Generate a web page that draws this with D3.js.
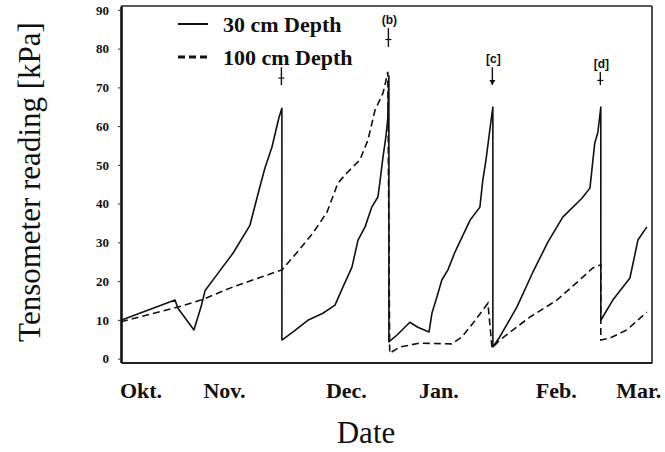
<!DOCTYPE html>
<html>
<head>
<meta charset="utf-8">
<script src="https://cdn.jsdelivr.net/npm/d3@7"></script>
<style>
  body { margin: 0; background: #fff; }
  svg { display: block; }
</style>
</head>
<body>
<svg id="chart"></svg>
<script>
// days counted from the start of October
const days30 = [0, 16.9, 17.8, 22.8, 25, 26.3, 30.3, 35, 40.3, 43.4, 45, 47.2, 49.4, 50.3,
  50.3, 53.8, 58.4, 63.1, 66.9, 69.4, 72.2, 74.1, 76.3, 78.4, 80.3, 80.9, 81.9, 82.8, 83.4, 83.75,
  83.75, 86.3, 90.3, 92.8, 96.3, 97.2, 98.75, 100.3, 102.2, 104.4, 109.1, 112.2, 113.1, 114.1, 115.3, 116.25,
  116.25, 118.4, 123.75, 128.75, 133.4, 138.1, 144.1, 146.6, 148.1, 149.1, 150,
  150, 153.75, 159.1, 161.6, 164.4];
const kpa30 = [9.9, 15.1, 13, 7.4, 13.3, 17.6, 22, 27.2, 34.4, 44.3, 49.2, 54.6, 62.3, 64.6,
  4.8, 6.9, 9.9, 11.7, 13.8, 18.5, 23.6, 30.6, 34, 39.1, 41.7, 45.3, 52, 57.2, 62, 73,
  4.3, 6.1, 9.4, 8.1, 6.9, 11.7, 15.9, 20.3, 22.9, 27.5, 35.7, 39.1, 46, 51.3, 59, 64.9,
  3, 5.6, 13.3, 22.3, 30, 36.5, 41.4, 44, 55.6, 58.5, 64.9,
  9.9, 15.1, 20.8, 30.6, 34];

const days100 = [0, 17.8, 25, 35, 50.3, 53.8, 60, 64.4, 67.8, 70.6, 74.7, 77.2, 79.4, 81.9, 83.1, 83.4,
  84, 87.2, 93.4, 103.4, 106.6, 110, 113.1, 114.7,
  116, 118.4, 127.8, 136.25, 143.4, 147.5, 150,
  150, 152.8, 158.1, 164.4];
const kpa100 = [9.5, 13.3, 15.1, 18.5, 22.9, 26.2, 32.4, 37.8, 45.3, 47.9, 51.3, 56.4, 64.1, 68.5, 72.7, 74,
  1.4, 3.0, 4.0, 3.8, 5.6, 9.1, 12.5, 14.3,
  2.7, 4.8, 10.7, 15.1, 20.3, 23.4, 24.2,
  4.8, 5.3, 7.4, 12];

const monthDays = [6.1, 32.2, 70.3, 99.2, 135.9, 161.7];
const monthLabels = ["Okt.", "Nov.", "Dec.", "Jan.", "Feb.", "Mar."];
const yTicks = [0, 10, 20, 30, 40, 50, 60, 70, 80, 90];

// irrigation events
const eventDays = [50.3, 83.75, 116.25, 150];
const eventLabels = ["", "(b)", "[c]", "[d]"];

const seriesNames = ["30 cm Depth", "100 cm Depth"];

const W = 665, H = 452;
const svg = d3.select("#chart").attr("width", W).attr("height", H);

const x = d3.scaleLinear().domain([0, 166]).range([121, 652]);
const y = d3.scaleLinear().domain([-1, 91]).range([362.5, 6]);

const serif = "'Liberation Serif', 'Times New Roman', serif";

// frame (top and right)
svg.append("line")
  .attr("x1", x(0)).attr("x2", x(166)).attr("y1", y(91)).attr("y2", y(91))
  .attr("stroke", "#222").attr("stroke-width", 1.6);
svg.append("line")
  .attr("x1", x(166)).attr("x2", x(166)).attr("y1", y(91)).attr("y2", y(-1))
  .attr("stroke", "#222").attr("stroke-width", 1.6);

// y axis
const yAxis = svg.append("g")
  .attr("transform", `translate(${x(0)},0)`)
  .call(d3.axisLeft(y).tickValues(yTicks).tickSize(3).tickPadding(9).tickSizeOuter(0));
yAxis.select(".domain").attr("stroke", "#111").attr("stroke-width", 2.6);
yAxis.selectAll(".tick line").attr("stroke", "#333");
yAxis.selectAll("text")
  .attr("font-family", serif)
  .attr("font-weight", "bold")
  .attr("font-size", "13px")
  .attr("fill", "#111");

// x axis
const xAxis = svg.append("g")
  .attr("transform", `translate(0,${y(-1)})`)
  .call(d3.axisBottom(x).tickValues(monthDays).tickSize(0).tickSizeOuter(0)
    .tickFormat((d, i) => monthLabels[i]));
xAxis.select(".domain").attr("stroke", "#222").attr("stroke-width", 1.8);
xAxis.selectAll("text")
  .attr("y", 35)
  .attr("dy", null)
  .attr("font-family", serif)
  .attr("font-weight", "bold")
  .attr("font-size", "22px")
  .attr("fill", "#111");

// lines
const line = d3.line().x(d => x(d[0])).y(d => y(d[1]));

svg.append("path")
  .datum(days100.map((d, i) => [d, kpa100[i]]))
  .attr("fill", "none")
  .attr("stroke", "#111")
  .attr("stroke-width", 1.6)
  .attr("stroke-dasharray", "7,4")
  .attr("d", line);

svg.append("path")
  .datum(days30.map((d, i) => [d, kpa30[i]]))
  .attr("fill", "none")
  .attr("stroke", "#111")
  .attr("stroke-width", 1.6)
  .attr("stroke-linejoin", "round")
  .attr("d", line);

// event markers
const markTop = [75.2, 85.3, 75.2, 74];
const markBottom = [70.6, 80.4, 70.6, 70.6];
eventDays.forEach((d, i) => {
  const mx = x(d) - 0.5;
  svg.append("line")
    .attr("x1", mx).attr("x2", mx)
    .attr("y1", y(markTop[i])).attr("y2", y(markBottom[i]))
    .attr("stroke", "#111").attr("stroke-width", 1.4);
  if (i === 2) {
    svg.append("path")
      .attr("d", `M${mx - 3},${y(markBottom[i]) - 5} L${mx + 3},${y(markBottom[i]) - 5} L${mx},${y(markBottom[i])} Z`)
      .attr("fill", "#111");
  } else {
    const cy = y((markTop[i] + markBottom[i]) / 2 - 0.5);
    svg.append("line")
      .attr("x1", mx - 3).attr("x2", mx + 3)
      .attr("y1", cy).attr("y2", cy)
      .attr("stroke", "#111").attr("stroke-width", 1.2);
  }
  if (eventLabels[i]) {
    svg.append("text")
      .attr("x", mx + 1)
      .attr("y", y(markTop[i]) - 4)
      .attr("text-anchor", "middle")
      .attr("font-family", "'Liberation Sans', Arial, sans-serif")
      .attr("font-weight", "bold")
      .attr("font-size", "12px")
      .attr("fill", "#111")
      .text(eventLabels[i]);
  }
});

// legend
const legend = svg.append("g");
seriesNames.forEach((name, i) => {
  const ly = 24 + i * 33;
  legend.append("line")
    .attr("x1", 178).attr("x2", 208)
    .attr("y1", ly).attr("y2", ly)
    .attr("stroke", "#111")
    .attr("stroke-width", i === 0 ? 2 : 3.2)
    .attr("stroke-dasharray", i === 0 ? null : "7,4");
  legend.append("text")
    .attr("x", 223)
    .attr("y", ly + 8)
    .attr("font-family", serif)
    .attr("font-weight", "bold")
    .attr("font-size", "22px")
    .attr("fill", "#111")
    .text(name);
});

// axis titles
svg.append("text")
  .attr("transform", "translate(40,182) rotate(-90)")
  .attr("text-anchor", "middle")
  .attr("font-family", serif)
  .attr("font-size", "31px")
  .attr("fill", "#111")
  .text("Tensometer reading [kPa]");

svg.append("text")
  .attr("x", 366)
  .attr("y", 443)
  .attr("text-anchor", "middle")
  .attr("font-family", serif)
  .attr("font-size", "31px")
  .attr("fill", "#111")
  .text("Date");
</script>
</body>
</html>
